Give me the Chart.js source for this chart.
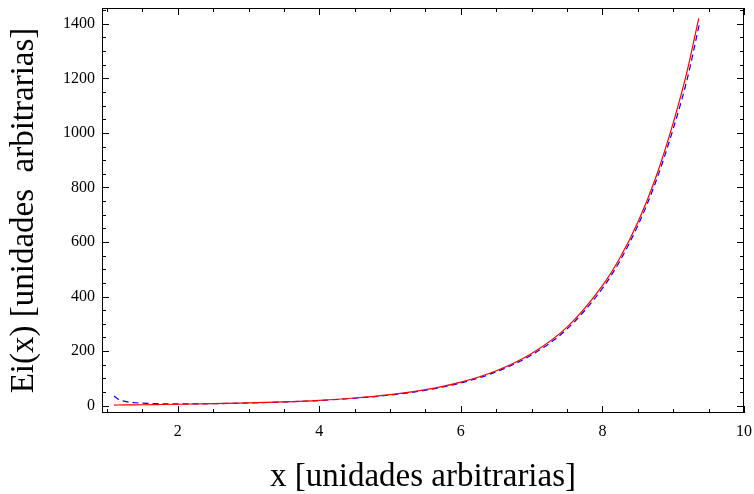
<!DOCTYPE html>
<html>
<head>
<meta charset="utf-8">
<script src="https://cdn.jsdelivr.net/npm/chart.js@4.4.1/dist/chart.umd.min.js"></script>
<style>
  html, body { margin: 0; padding: 0; background: #fff; }
  #wrap { width: 754px; height: 494px; }
</style>
</head>
<body>
<div id="wrap"><canvas id="chart"></canvas></div>
<script>
// Data
const xExact = [1.1, 1.25, 1.5, 1.75, 2, 2.5, 3, 3.5, 4, 4.5, 5, 5.5, 6, 6.5, 7, 7.5, 8, 8.25, 8.5, 8.75, 9, 9.2, 9.36];
const eiExact = [2.2, 2.7, 3.3, 4.1, 5.0, 7.1, 9.9, 13.9, 19.6, 28.0, 40.2, 58.4, 86.0, 128, 191.5, 288, 440, 543, 672, 834, 1037, 1230, 1420];

const xApprox = [1.1, 1.15, 1.2, 1.3, 1.4, 1.5, 1.75, 2, 2.5, 3, 3.5, 4, 4.5, 5, 5.5, 6, 6.5, 7, 7.5, 8, 8.25, 8.5, 8.75, 9, 9.2, 9.37];
const eiApprox = [35, 25, 19, 13, 10.5, 9, 7, 6.3, 7.2, 9.6, 13.4, 18.9, 27, 38.8, 56.5, 83.2, 124, 186, 281, 430, 532, 660, 818, 1015, 1200, 1400];

const xTicks = [2, 4, 6, 8, 10];
const yTicks = [0, 200, 400, 600, 800, 1000, 1200, 1400];

const serif = '"Liberation Serif", "DejaVu Serif", serif';

function toPoints(xs, ys) {
    return xs.map((x, i) => ({ x: x, y: ys[i] }));
}

// Frame with inward ticks on all four sides
const framePlugin = {
    id: 'frame',
    afterDraw(chart) {
        const ctx = chart.ctx;
        const a = chart.chartArea;
        const xs = chart.scales.x;
        const ys = chart.scales.y;
        ctx.save();
        ctx.strokeStyle = '#000';
        ctx.lineWidth = 1;
        ctx.strokeRect(a.left + 0.5, a.top + 0.5, a.right - a.left - 1, a.bottom - a.top - 1);
        ctx.beginPath();
        for (let v = 1; v <= 10.001; v += 0.5) {
            const px = Math.round(xs.getPixelForValue(v)) + 0.5;
            const len = (Math.abs(v % 2) < 0.01) ? 7 : 4;
            ctx.moveTo(px, a.bottom); ctx.lineTo(px, a.bottom - len);
            ctx.moveTo(px, a.top); ctx.lineTo(px, a.top + len);
        }
        for (let v = 0; v <= 1450; v += 50) {
            const py = Math.round(ys.getPixelForValue(v)) + 0.5;
            const len = (v % 200 === 0) ? 7 : 4;
            ctx.moveTo(a.left, py); ctx.lineTo(a.left + len, py);
            ctx.moveTo(a.right, py); ctx.lineTo(a.right - len, py);
        }
        ctx.stroke();
        ctx.restore();
    }
};

const ctx = document.getElementById('chart').getContext('2d');
const chart = new Chart(ctx, {
    type: 'scatter',
    data: {
        datasets: [
            {
                label: 'Ei(x)',
                data: toPoints(xExact, eiExact),
                showLine: true,
                borderColor: '#ff0000',
                borderWidth: 1.2,
                pointRadius: 0,
                cubicInterpolationMode: 'monotone'
            },
            {
                label: 'aproximación',
                data: toPoints(xApprox, eiApprox),
                showLine: true,
                borderColor: '#0000ff',
                borderWidth: 1.2,
                borderDash: [6, 4],
                pointRadius: 0,
                cubicInterpolationMode: 'monotone'
            }
        ]
    },
    options: {
        responsive: true,
        maintainAspectRatio: false,
        animation: false,
        layout: { padding: { left: 0, right: 10, top: 8, bottom: 0 } },
        plugins: {
            legend: { display: false },
            tooltip: { enabled: false }
        },
        scales: {
            x: {
                type: 'linear',
                min: 0.93,
                max: 10,
                grid: { display: false, drawTicks: false },
                border: { display: false },
                afterBuildTicks: (s) => { s.ticks = xTicks.map(v => ({ value: v })); },
                afterFit: (s) => { s.height = 81; s.paddingLeft = 0; s.paddingRight = 0; },
                ticks: {
                    color: '#000',
                    padding: 9,
                    maxRotation: 0,
                    callback: (v) => String(v),
                    font: { family: serif, size: 16 }
                },
                title: {
                    display: true,
                    text: 'x [unidades arbitrarias]',
                    color: '#000',
                    font: { family: serif, size: 33, lineHeight: 1 },
                    padding: { top: 0, bottom: 0 }
                }
            },
            y: {
                type: 'linear',
                min: -27,
                max: 1458,
                grid: { display: false, drawTicks: false },
                border: { display: false },
                afterBuildTicks: (s) => { s.ticks = yTicks.map(v => ({ value: v })); },
                afterFit: (s) => { s.width = 102; s.paddingTop = 0; s.paddingBottom = 0; },
                ticks: {
                    color: '#000',
                    padding: 7,
                    callback: (v) => String(v),
                    font: { family: serif, size: 16 }
                },
                title: {
                    display: true,
                    text: 'Ei(x) [unidades  arbitrarias]',
                    color: '#000',
                    font: { family: serif, size: 33, lineHeight: 1 },
                    padding: { top: 8, bottom: 0 }
                }
            }
        }
    },
    plugins: [framePlugin]
});
</script>
</body>
</html>
